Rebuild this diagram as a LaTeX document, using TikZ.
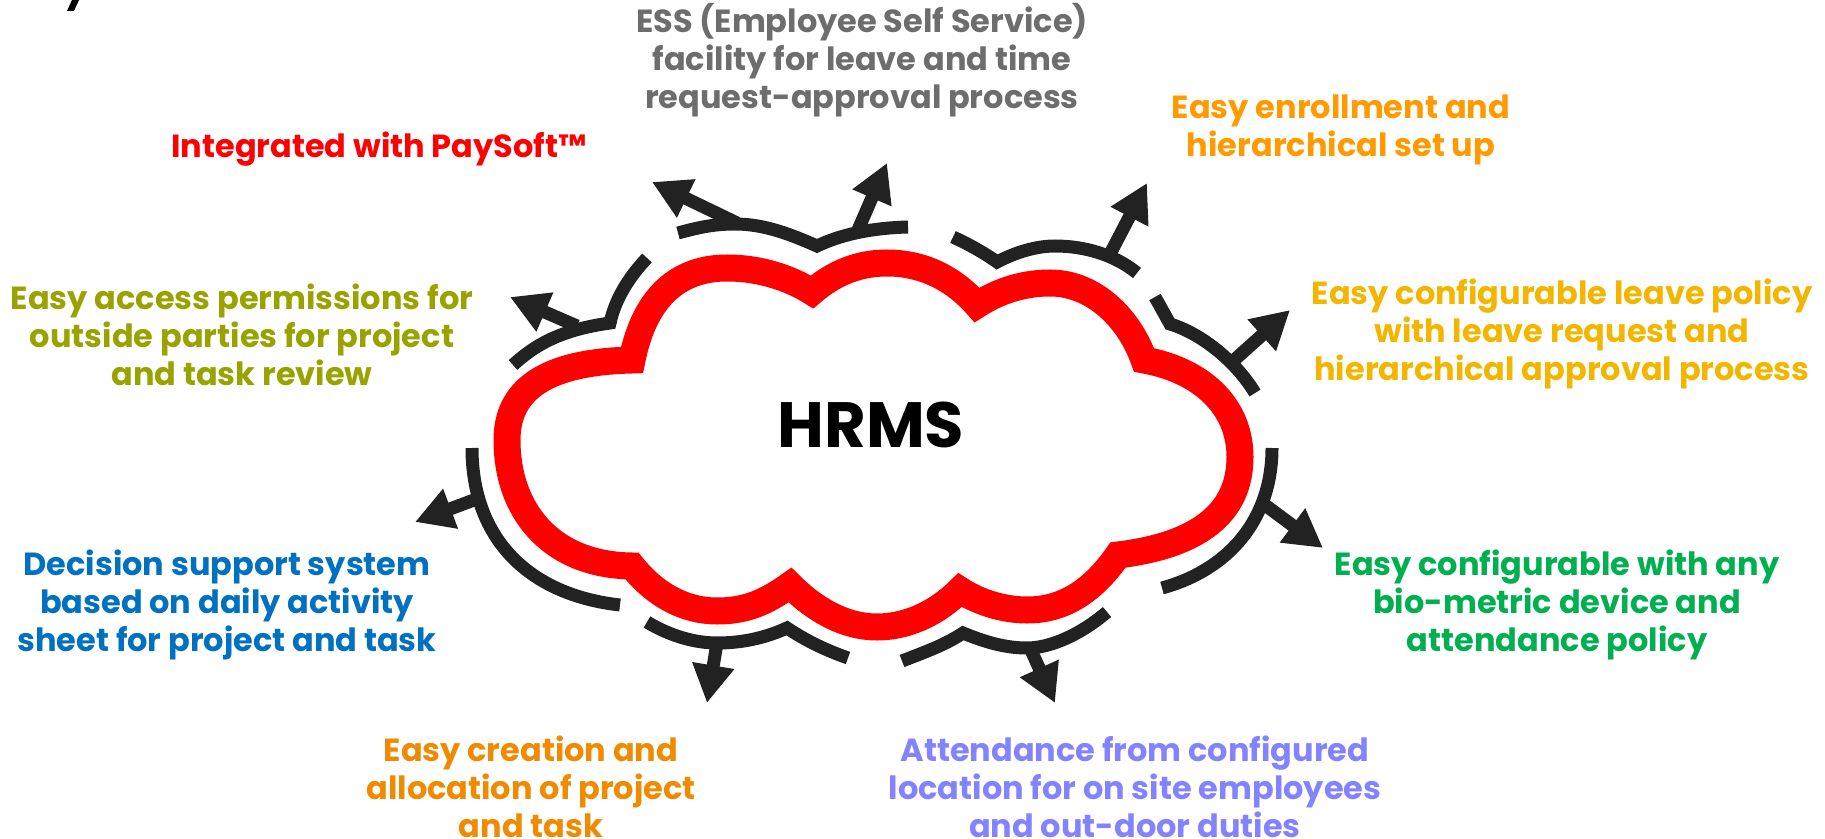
\documentclass[tikz,border=0pt]{standalone}
\usepackage{fontspec}
\setmainfont{Poppins}
\usetikzlibrary{arrows.meta}
\definecolor{arcblack}{HTML}{222222}
\definecolor{cred}{HTML}{FF0000}
\definecolor{cgray}{HTML}{6D6D6D}
\definecolor{corange}{HTML}{FF9A00}
\definecolor{cgold}{HTML}{F2B600}
\definecolor{cgreen}{HTML}{00B050}
\definecolor{clav}{HTML}{8383FF}
\definecolor{corange2}{HTML}{F08A00}
\definecolor{cblue}{HTML}{0070C0}
\definecolor{colive}{HTML}{97A400}
\tikzset{
  cloudline/.style={draw=cred, line width=13.5pt, line join=miter, fill=white},
  arcline/.style={draw=arcblack, line width=6.5pt, line cap=butt, line join=miter},
  outarrow/.style={draw=arcblack, line width=6.5pt, -{Triangle[length=19pt,width=20pt]}, fill=arcblack},
  label/.style={font=\bfseries\fontsize{16}{19}\selectfont, align=center, inner sep=0pt},
}
\begin{document}
\begin{tikzpicture}[x=0.5pt,y=-0.5pt]
\useasboundingbox (0,0) rectangle (1825,839);
% fragment at top left
\fill[black] (72,0) -- (79,0) -- (74,11) -- (67,11) -- cycle;
% cloud
\draw[cloudline] (632,360)
 .. controls (645,295) and (680,268) .. (727,268)
 .. controls (760,268) and (790,278) .. (812,292)
 .. controls (835,272) and (860,263) .. (887,263)
 .. controls (925,263) and (955,280) .. (977,305)
 .. controls (1000,290) and (1025,283) .. (1050,283)
 .. controls (1095,283) and (1130,320) .. (1144,360)
 .. controls (1200,370) and (1240,405) .. (1240,457)
 .. controls (1240,512) and (1200,545) .. (1118,555)
 .. controls (1090,595) and (1060,610) .. (1027,610)
 .. controls (1000,610) and (975,600) .. (960,590)
 .. controls (935,615) and (905,627) .. (877,627)
 .. controls (845,627) and (815,610) .. (790,585)
 .. controls (765,603) and (745,611) .. (717,611)
 .. controls (685,611) and (655,595) .. (632,566)
 .. controls (550,565) and (507,510) .. (507,440)
 .. controls (507,390) and (545,362) .. cycle;
\node[font=\bfseries\fontsize{32}{38}\selectfont, inner sep=0pt] (hrms) at (871,425) {HRMS};
% black arcs
\draw[arcline] (513,365) .. controls (535,345) and (560,330) .. (610,323)
  .. controls (615,300) and (628,278) .. (647,258);
\draw[arcline] (678,233) .. controls (700,227) and (715,224) .. (735,224)
  .. controls (765,224) and (792,235) .. (817,246)
  .. controls (840,235) and (870,228) .. (908,227);
\draw[arcline] (953,237) .. controls (968,244) and (983,252) .. (997,262)
  .. controls (1020,250) and (1040,246) .. (1055,246)
  .. controls (1085,246) and (1115,255) .. (1137,273);
\draw[arcline] (1155,297) -- (1170,324)
  .. controls (1200,333) and (1235,360) .. (1255,393);
\draw[arcline] (1272,448) .. controls (1272,520) and (1228,570) .. (1162,588);
\draw[arcline] (1107,612) .. controls (1080,635) and (1050,648) .. (1027,648)
  .. controls (1005,648) and (985,642) .. (963,633)
  .. controls (945,645) and (925,652) .. (902,661);
\draw[arcline] (647,622) .. controls (670,636) and (695,643) .. (717,643)
  .. controls (742,643) and (765,638) .. (787,628)
  .. controls (805,640) and (825,650) .. (848,658);
\draw[arcline] (472,448) .. controls (472,540) and (530,595) .. (620,605);
% arrow coordinates
\coordinate (b1) at (577,326); \coordinate (t1) at (510,297);
\coordinate (b2) at (737,223); \coordinate (t2) at (652,182);
\coordinate (b3) at (858,230); \coordinate (t3) at (887,163);
\coordinate (b4) at (1110,254); \coordinate (t4) at (1147,183);
\coordinate (b5) at (1232,362); \coordinate (t5) at (1290,310);
\coordinate (b6) at (1265,505); \coordinate (t6) at (1323,548);
\coordinate (b7) at (1030,648); \coordinate (t7) at (1055,703);
\coordinate (b8) at (717,643); \coordinate (t8) at (707,703);
\coordinate (b9) at (474,500); \coordinate (t9) at (415,522);
\foreach \i in {1,...,9} {\draw[outarrow] (b\i) -- (t\i);}
% labels
\node[label, text=cred] (lint) at (379,149) {Integrated with PaySoft™};
\node[label, text=cgray] (less) at (862,60) {ESS (Employee Self Service)\\facility for leave and time\\request-approval process};
\node[label, text=corange] (lenr) at (1341,130) {Easy enrollment and\\hierarchical set up};
\node[label, text=cgold] (lleave) at (1562,334) {Easy configurable leave policy\\with leave request and\\hierarchical approval process};
\node[label, text=cgreen] (lbio) at (1557,605) {Easy configurable with any\\bio-metric device and\\attendance policy};
\node[label, text=clav] (latt) at (1135,787) {Attendance from configured\\location for on site employees\\and out-door duties};
\node[label, text=corange2] (lcre) at (531,787) {Easy creation and\\allocation of project\\and task};
\node[label, text=cblue] (ldec) at (227,605) {Decision support system\\based on daily activity\\sheet for project and task};
\node[label, text=colive] (lacc) at (242,335) {Easy access permissions for\\outside parties for project\\and task review};
\end{tikzpicture}
\end{document}
